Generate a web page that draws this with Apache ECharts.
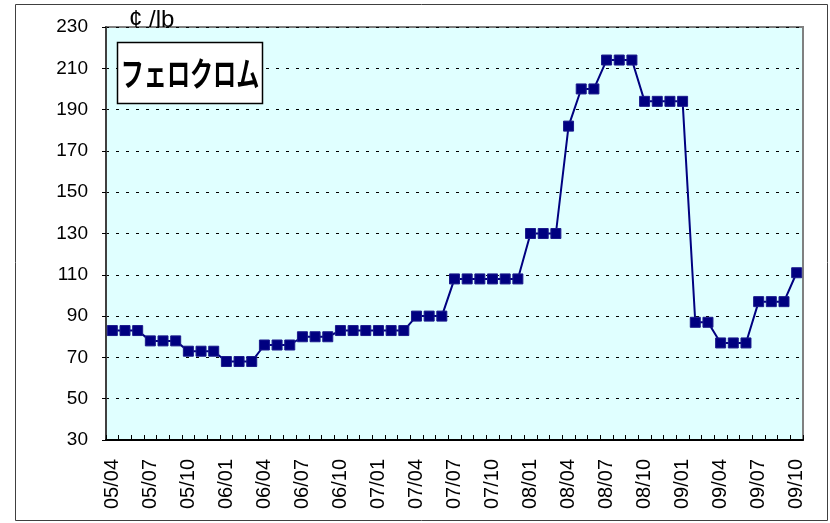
<!DOCTYPE html>
<html>
<head>
<meta charset="utf-8">
<script src="https://cdn.jsdelivr.net/npm/echarts@6/dist/echarts.min.js"></script>
<style>
  html, body { margin: 0; padding: 0; background: #fff; }
  #main { width: 830px; height: 523px; }
</style>
</head>
<body>
<div id="main"></div>
<script>
// 月 (05/04 - 09/10)
var months = [
    '05/04', '05/05', '05/06', '05/07', '05/08', '05/09', '05/10', '05/11', '05/12',
    '06/01', '06/02', '06/03', '06/04', '06/05', '06/06', '06/07', '06/08', '06/09',
    '06/10', '06/11', '06/12', '07/01', '07/02', '07/03', '07/04', '07/05', '07/06',
    '07/07', '07/08', '07/09', '07/10', '07/11', '07/12', '08/01', '08/02', '08/03',
    '08/04', '08/05', '08/06', '08/07', '08/08', '08/09', '08/10', '08/11', '08/12',
    '09/01', '09/02', '09/03', '09/04', '09/05', '09/06', '09/07', '09/08', '09/09',
    '09/10'
];

// フェロクロム価格 (¢/lb)
var prices = [
    83, 83, 83, 78, 78, 78, 73, 73, 73,
    68, 68, 68, 76, 76, 76, 80, 80, 80,
    83, 83, 83, 83, 83, 83, 90, 90, 90,
    108, 108, 108, 108, 108, 108, 130, 130, 130,
    182, 200, 200, 214, 214, 214, 194, 194, 194,
    194, 87, 87, 77, 77, 77, 97, 97, 97,
    111
];

var yMin = 30, yMax = 230, yStep = 20;

var chart = echarts.init(document.getElementById('main'));

var option = {
    animation: false,
    backgroundColor: '#fff',
    grid: {
        left: 106,
        right: 27,
        top: 27,
        bottom: 83,
        show: true,
        backgroundColor: '#e0ffff',
        borderColor: '#808080',
        borderWidth: 2
    },
    xAxis: {
        type: 'category',
        data: months,
        boundaryGap: true,
        axisLine: { lineStyle: { color: '#000', width: 2 } },
        axisTick: {
            show: true,
            interval: 0,
            inside: true,
            length: 5,
            lineStyle: { color: '#000' }
        },
        axisLabel: {
            interval: 2,
            rotate: 90,
            margin: 19,
            color: '#000',
            fontSize: 20,
            fontFamily: 'Liberation Sans'
        },
        splitLine: { show: false }
    },
    yAxis: {
        type: 'value',
        min: yMin,
        max: yMax,
        interval: yStep,
        axisLine: { show: true, lineStyle: { color: '#404040', width: 2 } },
        axisTick: { show: true, length: 4, lineStyle: { color: '#000' } },
        axisLabel: {
            margin: 18,
            color: '#000',
            fontSize: 19,
            fontFamily: 'Liberation Sans'
        },
        splitLine: {
            show: true,
            lineStyle: { color: '#000', type: [3, 7], width: 1 }
        }
    },
    graphic: [
        {
            // 外枠
            type: 'rect',
            shape: { x: 15.5, y: 4.5, width: 812, height: 516 },
            style: { fill: 'none', stroke: '#404040', lineWidth: 1 },
            z: 100
        },
        {
            type: 'text',
            left: 129,
            top: 8,
            style: {
                text: '¢ /lb',
                fontSize: 24,
                fontFamily: 'Liberation Sans',
                fill: '#000'
            },
            z: 100
        },
        {
            type: 'rect',
            shape: { x: 117.5, y: 42.5, width: 145, height: 61 },
            style: { fill: '#fff', stroke: '#000', lineWidth: 1.5 },
            z: 100
        },
        {
            type: 'text',
            x: 190,
            y: 73,
            scaleX: 0.7,
            style: {
                text: 'フェロクロム',
                fontSize: 33,
                fontWeight: 'bold',
                fontFamily: 'Noto Sans CJK JP',
                fill: '#000',
                align: 'center',
                verticalAlign: 'middle'
            },
            z: 101
        }
    ],
    series: [
        {
            name: 'フェロクロム',
            type: 'line',
            data: prices,
            symbol: 'rect',
            symbolSize: 10,
            showAllSymbol: true,
            lineStyle: { color: '#000080', width: 2 },
            itemStyle: { color: '#000080', borderColor: '#1a1a8c', borderWidth: 1 }
        }
    ]
};

chart.setOption(option);
</script>
</body>
</html>
